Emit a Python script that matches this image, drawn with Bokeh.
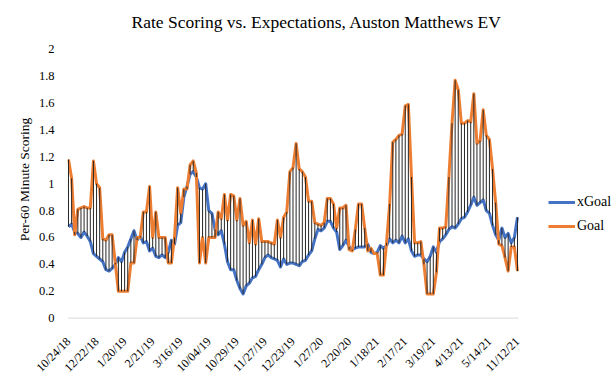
from bokeh.plotting import figure
from bokeh.models import Range1d, FixedTicker, Legend, LegendItem, ColumnDataSource
from bokeh.embed import file_html
from bokeh.resources import INLINE
import math

date_labels = ["10/24/18", "12/22/18", "1/20/19", "2/21/19", "3/16/19", "10/04/19",
               "10/29/19", "11/27/19", "12/23/19", "1/27/20", "2/20/20", "1/18/21",
               "2/17/21", "3/19/21", "4/13/21", "5/14/21", "11/12/21"]
label_step = 9

xgoal = [0.68, 0.70, 0.64, 0.63, 0.60, 0.64, 0.61, 0.57, 0.48, 0.46,
         0.44, 0.42, 0.36, 0.35, 0.37, 0.40, 0.45, 0.42, 0.49, 0.53,
         0.59, 0.65, 0.58, 0.61, 0.56, 0.57, 0.50, 0.52, 0.46, 0.45,
         0.47, 0.45, 0.49, 0.58, 0.55, 0.69, 0.71, 0.90, 0.98, 1.07,
         1.09, 1.05, 0.97, 0.96, 1.00, 0.80, 0.78, 0.66, 0.62, 0.65,
         0.55, 0.42, 0.36, 0.36, 0.28, 0.22, 0.18, 0.24, 0.26, 0.30,
         0.31, 0.36, 0.40, 0.45, 0.47, 0.45, 0.44, 0.43, 0.38, 0.44,
         0.40, 0.41, 0.41, 0.40, 0.39, 0.42, 0.43, 0.47, 0.50, 0.59,
         0.66, 0.65, 0.67, 0.72, 0.72, 0.67, 0.64, 0.51, 0.54, 0.58,
         0.53, 0.51, 0.52, 0.53, 0.53, 0.53, 0.55, 0.49, 0.48, 0.49,
         0.54, 0.52, 0.54, 0.59, 0.56, 0.58, 0.56, 0.61, 0.56, 0.59,
         0.50, 0.46, 0.47, 0.47, 0.44, 0.42, 0.46, 0.53, 0.49, 0.57,
         0.59, 0.62, 0.66, 0.68, 0.67, 0.70, 0.74, 0.75, 0.79, 0.84,
         0.90, 0.84, 0.86, 0.88, 0.80, 0.78, 0.69, 0.62, 0.58, 0.67,
         0.60, 0.63, 0.56, 0.60, 0.75]

goal = [1.18, 1.04, 0.62, 0.81, 0.82, 0.83, 0.82, 0.82, 1.17, 1.00,
        0.97, 0.59, 0.58, 0.62, 0.62, 0.41, 0.20, 0.20, 0.20, 0.20,
        0.41, 0.41, 0.60, 0.60, 0.79, 0.79, 0.98, 0.60, 0.79, 0.60,
        0.60, 0.60, 0.41, 0.41, 0.60, 0.97, 0.78, 0.96, 0.96, 1.14,
        1.17, 1.08, 0.41, 0.60, 0.41, 0.60, 0.60, 0.60, 0.79, 0.74,
        0.92, 0.73, 0.92, 0.91, 0.73, 0.89, 0.69, 0.72, 0.56, 0.73,
        0.55, 0.74, 0.57, 0.57, 0.57, 0.56, 0.55, 0.73, 0.60, 0.75,
        0.79, 1.09, 1.12, 1.30, 1.11, 1.09, 1.05, 0.87, 0.87, 0.71,
        0.70, 0.69, 0.71, 0.89, 0.89, 0.85, 0.67, 0.82, 0.82, 0.84,
        0.51, 0.50, 0.66, 0.85, 0.85, 0.67, 0.50, 0.52, 0.48, 0.48,
        0.32, 0.32, 0.56, 0.85, 1.31, 1.33, 1.36, 1.37, 1.58, 1.59,
        1.05, 0.56, 0.56, 0.57, 0.40, 0.18, 0.18, 0.18, 0.34, 0.67,
        0.67, 0.68, 1.05, 1.45, 1.77, 1.70, 1.45, 1.45, 1.47, 1.46,
        1.67, 1.30, 1.32, 1.55, 1.36, 1.33, 1.11, 0.86, 0.55, 0.54,
        0.45, 0.35, 0.53, 0.53, 0.35]

y_ticks = [0, 0.2, 0.4, 0.6, 0.8, 1.0, 1.2, 1.4, 1.6, 1.8, 2.0]

n = len(goal)
idx = list(range(n))
src = ColumnDataSource(dict(x=idx, xg=xgoal, g=goal))

SERIF = "Liberation Serif"
PX_PER_CAT = 3.118
FRAME_LEFT = 67
FRAME_W = 616 - FRAME_LEFT
x_start = -0.32
x_end = x_start + FRAME_W / PX_PER_CAT

PX_PER_UNIT = 136.3
TOP = 39      # frame top (px)
BOTTOM = 59   # space below frame (px)
y_start = -1.4 / PX_PER_UNIT
y_end = 2 + (49 - TOP) / PX_PER_UNIT

p = figure(width=616, height=382, output_backend="svg", toolbar_location=None,
           x_range=Range1d(x_start, x_end), y_range=Range1d(y_start, y_end),
           min_border_left=FRAME_LEFT, min_border_right=0, min_border_top=TOP,
           min_border_bottom=BOTTOM)

p.title.text = "Rate Scoring vs. Expectations, Auston Matthews EV"
p.title.align = "left"
p.title.offset = 64
p.title.text_font = SERIF
p.title.text_font_style = "normal"
p.title.text_font_size = "17.5px"
p.title.text_color = "#000000"
p.title.standoff = 15

p.outline_line_color = None
p.xgrid.visible = False
p.ygrid.visible = False
p.background_fill_color = "white"
p.border_fill_color = "white"

# category axis baseline (only spans the categories)
p.segment(x0=[x_start], y0=[0], x1=[n - 1 + 0.3], y1=[0], line_color="#D9D9D9", line_width=1)

r_xg = p.line("x", "xg", source=src, line_color="#4472C4", line_width=3, line_join="round")
r_g = p.line("x", "g", source=src, line_color="#ED7D31", line_width=3, line_join="round")
p.segment(x0="x", y0="xg", x1="x", y1="g", source=src, line_color="#262626", line_width=1)

xa = p.xaxis[0]
xa.ticker = FixedTicker(ticks=[i * label_step for i in range(len(date_labels))])
xa.major_label_overrides = {i * label_step: lab for i, lab in enumerate(date_labels)}
xa.major_label_orientation = math.pi / 4
xa.major_label_text_font = SERIF
xa.major_label_text_font_size = "12px"
xa.major_label_text_color = "#000000"
xa.axis_line_color = None
xa.major_tick_line_color = None
xa.minor_tick_line_color = None
xa.major_tick_out = 0
xa.major_tick_in = 0
xa.minor_tick_out = 0
xa.major_label_standoff = 20

ya = p.yaxis[0]
ya.ticker = FixedTicker(ticks=y_ticks)
ya.major_label_overrides = {t: ("{:g}".format(t)) for t in y_ticks}
ya.axis_line_color = None
ya.major_tick_line_color = None
ya.minor_tick_line_color = None
ya.major_tick_out = 0
ya.major_tick_in = 0
ya.minor_tick_out = 0
ya.major_label_text_font = SERIF
ya.major_label_text_font_size = "12.5px"
ya.major_label_text_color = "#000000"
ya.major_label_standoff = 13
ya.axis_label = "Per-60 Minute Scoring"
ya.axis_label_text_font = SERIF
ya.axis_label_text_font_style = "normal"
ya.axis_label_text_font_size = "13.5px"
ya.axis_label_text_color = "#000000"
ya.axis_label_standoff = 4

legend = Legend(items=[LegendItem(label="xGoal", renderers=[r_xg]),
                       LegendItem(label="Goal", renderers=[r_g])],
                location=(481, 84))
legend.border_line_color = None
legend.background_fill_alpha = 0
legend.padding = 0
legend.margin = 0
legend.spacing = 6
legend.glyph_width = 27
legend.glyph_height = 18
legend.label_height = 18
legend.label_standoff = 2
legend.label_text_font = SERIF
legend.label_text_font_size = "14px"
legend.label_text_color = "#000000"
p.add_layout(legend)

open("out.html", "w").write(file_html(p, INLINE))
